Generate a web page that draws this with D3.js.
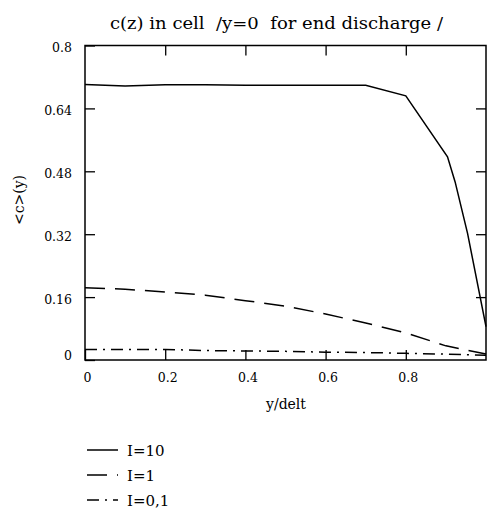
<!DOCTYPE html>
<html><head><meta charset="utf-8">
<script src="https://cdn.jsdelivr.net/npm/d3@7"></script>
<style>
body{margin:0;background:#fff;}
</style></head>
<body>
<svg id="c" width="487" height="512" xmlns="http://www.w3.org/2000/svg"></svg>
<script>
const xs10 = [0,0.1,0.2,0.3,0.4,0.5,0.6,0.7,0.8,0.904,0.923,0.954,1.0];
const c10  = [0.701,0.697,0.700,0.700,0.699,0.699,0.699,0.699,0.672,0.517,0.453,0.322,0.085];
const xs   = [0,0.1,0.2,0.3,0.4,0.5,0.6,0.7,0.8,0.9,1.0];
const c1   = [0.184,0.180,0.173,0.165,0.151,0.137,0.117,0.094,0.069,0.036,0.015];
const c01  = [0.027,0.027,0.027,0.024,0.023,0.022,0.020,0.019,0.017,0.015,0.012];
const xTicks = [0,0.2,0.4,0.6,0.8];
const yTicks = [0,0.16,0.32,0.48,0.64,0.8];
const legendLabels = ["I=10","I=1","I=0,1"];
const titleText = "c(z) in cell  /y=0  for end discharge /";

const FONT = "DejaVu Serif";
const svg = d3.select("#c").attr("font-family", FONT);
const x = d3.scaleLinear().domain([0,1]).range([85,486]);
const y = d3.scaleLinear().domain([0,0.8]).range([360,45.5]);

const series = [
  {xv:xs10, yv:c10, dash:null},
  {xv:xs, yv:c1, dash:"20,10"},
  {xv:xs, yv:c01, dash:"12,6,2,6"}
];

const g = svg.append("g");
g.append("rect").attr("x",x(0)).attr("y",y(0.8)).attr("width",x(1)-x(0)).attr("height",y(0)-y(0.8))
 .attr("fill","none").attr("stroke","#000").attr("stroke-width",1.5);

function fixAxis(a){ a.attr("font-family",FONT); a.select(".domain").remove(); a.selectAll("line").attr("stroke-width",1.3); }

g.append("g").attr("transform",`translate(0,${y(0)})`)
 .call(d3.axisBottom(x).tickValues(xTicks).tickSizeInner(-10).tickSizeOuter(0).tickPadding(13).tickFormat(d3.format("")))
 .call(a=>{fixAxis(a); a.selectAll("text").attr("font-size",12.5).attr("dx",2).attr("font-family",FONT);});
g.append("g").attr("transform",`translate(0,${y(0.8)})`)
 .call(d3.axisTop(x).tickValues(xTicks.slice(1)).tickSizeInner(-10).tickSizeOuter(0).tickFormat(""))
 .call(fixAxis);
g.append("g").attr("transform",`translate(${x(0)},0)`)
 .call(d3.axisLeft(y).tickValues(yTicks).tickSizeInner(-10).tickSizeOuter(0).tickPadding(13).tickFormat(d3.format("")))
 .call(a=>{fixAxis(a); a.selectAll("text").attr("font-size",12.5).attr("font-family",FONT)
    .attr("dy",(d)=> d===0 ? "-0.05em" : "0.5em");});
g.append("g").attr("transform",`translate(${x(1)},0)`)
 .call(d3.axisRight(y).tickValues(yTicks.slice(1,-1)).tickSizeInner(-10).tickSizeOuter(0).tickFormat(""))
 .call(fixAxis);

svg.append("clipPath").attr("id","pc").append("rect")
 .attr("x",x(0)).attr("y",y(0.8)).attr("width",x(1)-x(0)+1).attr("height",y(0)-y(0.8));
series.forEach(s=>{
  const pts = s.xv.map((v,i)=>[v,s.yv[i]]);
  svg.append("path").datum(pts)
    .attr("d",d3.line().x(d=>x(d[0])).y(d=>y(d[1])))
    .attr("fill","none").attr("stroke","#000").attr("stroke-width",1.5)
    .attr("stroke-dasharray",s.dash).attr("clip-path","url(#pc)");
});

svg.append("text").attr("x",110).attr("y",29).attr("font-size",16.5)
  .attr("textLength",333).attr("lengthAdjust","spacingAndGlyphs")
  .style("white-space","pre").attr("xml:space","preserve").text(titleText);
svg.append("text").attr("x",286).attr("y",409).attr("text-anchor","middle").attr("font-size",14).text("y/delt");
svg.append("text").attr("transform","translate(24,200) rotate(-90)").attr("text-anchor","middle").attr("font-size",14).text("<c>(y)");

legendLabels.forEach((lab,i)=>{
  const yy = 450 + i*25;
  svg.append("line").attr("x1",87).attr("x2",118).attr("y1",yy).attr("y2",yy)
    .attr("stroke","#000").attr("stroke-width",1.5).attr("stroke-dasharray",series[i].dash);
  svg.append("text").attr("x",127).attr("y",yy+6).attr("font-size",15).text(lab);
});
</script>
</body></html>
